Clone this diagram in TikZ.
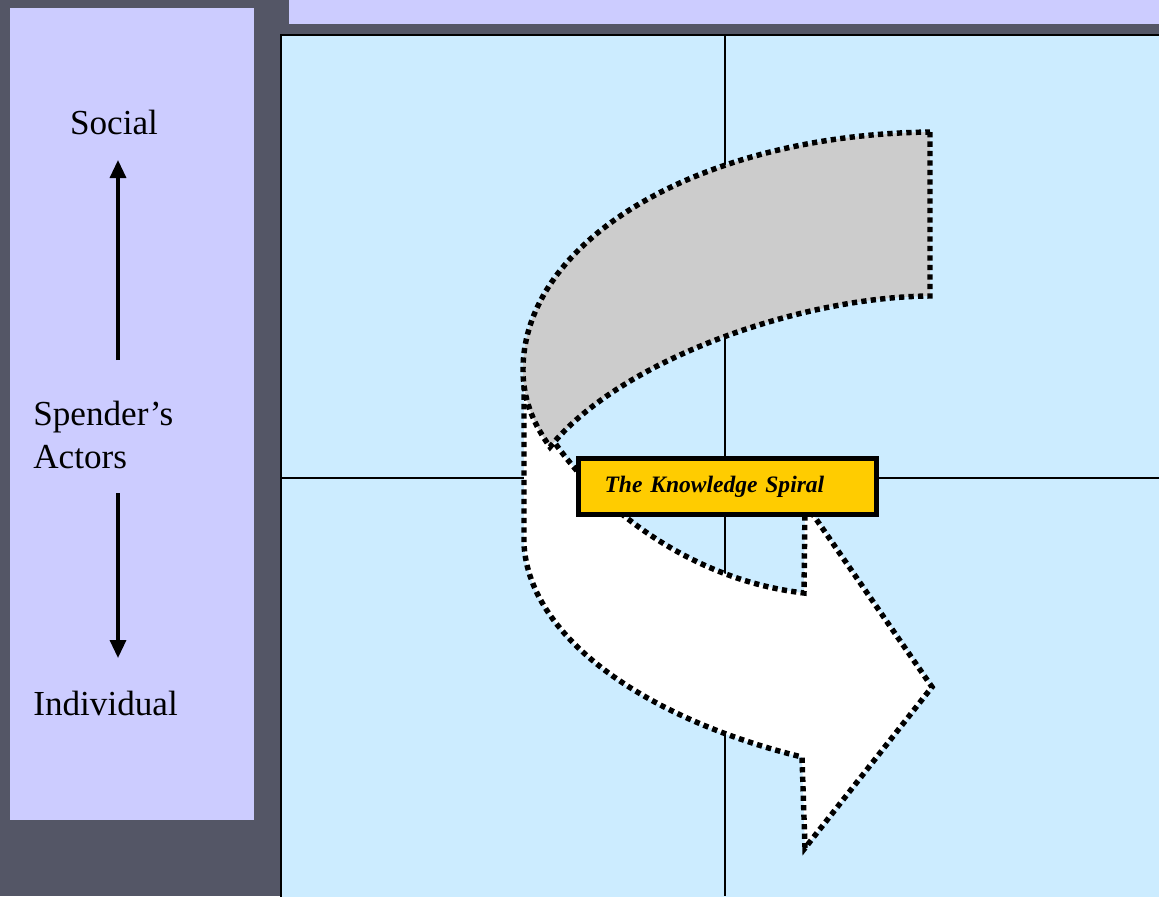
\documentclass[tikz,border=0pt]{standalone}
\usepackage{fontspec}
\setmainfont{Liberation Serif}
\usetikzlibrary{arrows.meta}
\definecolor{bgdark}{HTML}{545666}
\definecolor{lavender}{HTML}{CCCCFF}
\definecolor{panelblue}{HTML}{CCECFF}
\definecolor{bandgray}{HTML}{CCCCCC}
\definecolor{gold}{HTML}{FFCC00}
\tikzset{
  sidetext/.style={font=\fontsize{20pt}{24pt}\selectfont, inner sep=0pt, text=black},
  axisarrow/.style={line width=1.9pt, -{Triangle[length=0.36cm, width=0.32cm]}},
  gridline/.style={line width=1.1pt, black},
  dotline/.style={line width=3.1pt, dash pattern=on 3pt off 2.4pt, draw=black},
  labelbox/.style={draw=black, line width=2.8pt, fill=gold, inner xsep=0.52cm, inner ysep=0pt,
    minimum height=1.12cm, text width=4.92cm, align=left,
    font=\fontsize{13.4pt}{15pt}\selectfont\bfseries\itshape}
}
\begin{document}
\begin{tikzpicture}[x=0.02cm, y=-0.02cm]
\useasboundingbox (0,0) rectangle (1159,896);
% background
\fill[bgdark] (0,0) rectangle (1159,896);
% left panel and top bar
\fill[lavender] (10,8) rectangle (254,820);
\fill[lavender] (289,0) rectangle (1159,24);
% main panel
\fill[panelblue] (281,35) rectangle (1175,910);
\draw[line width=1.7pt] (1175,35) -- (281,35) -- (281,910);
% crosshair
\coordinate (vtop) at (725,35);
\coordinate (vbot) at (725,896);
\coordinate (hl) at (281,478);
\coordinate (hr) at (1159,478);
\draw[gridline] (vtop) -- (vbot);
\draw[gridline] (hl) -- (hr);
% left panel texts
\node[sidetext] (social) at (114,122) {Social};
\node[sidetext, anchor=west, align=left] (actors) at (33,435) {Spender’s\\Actors};
\node[sidetext, anchor=west] (indiv) at (33,703) {Individual};
\coordinate (upfrom) at (118,360);
\coordinate (upto) at (118,160);
\coordinate (dnfrom) at (118,493);
\coordinate (dnto) at (118,658);
\draw[axisarrow] (upfrom) -- (upto);
\draw[axisarrow] (dnfrom) -- (dnto);
% white front band with arrowhead
\fill[white] (524,385) -- (524,545) .. controls (530,640) and (650,720) .. (802,757)
  -- (805,848) -- (932,687) -- (805,503) -- (804,593)
  .. controls (690,580) and (590,505) .. (540,420) -- (560,400) -- cycle;
\draw[dotline] (524,385) -- (524,545) .. controls (530,640) and (650,720) .. (802,757)
  -- (805,848) -- (932,687) -- (805,503) -- (804,593)
  .. controls (690,580) and (590,505) .. (540,420);
% gray back band
\filldraw[dotline, fill=bandgray] (930,132) -- (930,296)
  .. controls (800,297) and (620,360) .. (550,447)
  .. controls (538,430) and (523,405) .. (523,370)
  .. controls (523,240) and (700,135) .. (930,132) -- cycle;
% label
\node[labelbox] (spiral) at (727.5,486.5) {The Knowledge Spiral};
\end{tikzpicture}
\end{document}
